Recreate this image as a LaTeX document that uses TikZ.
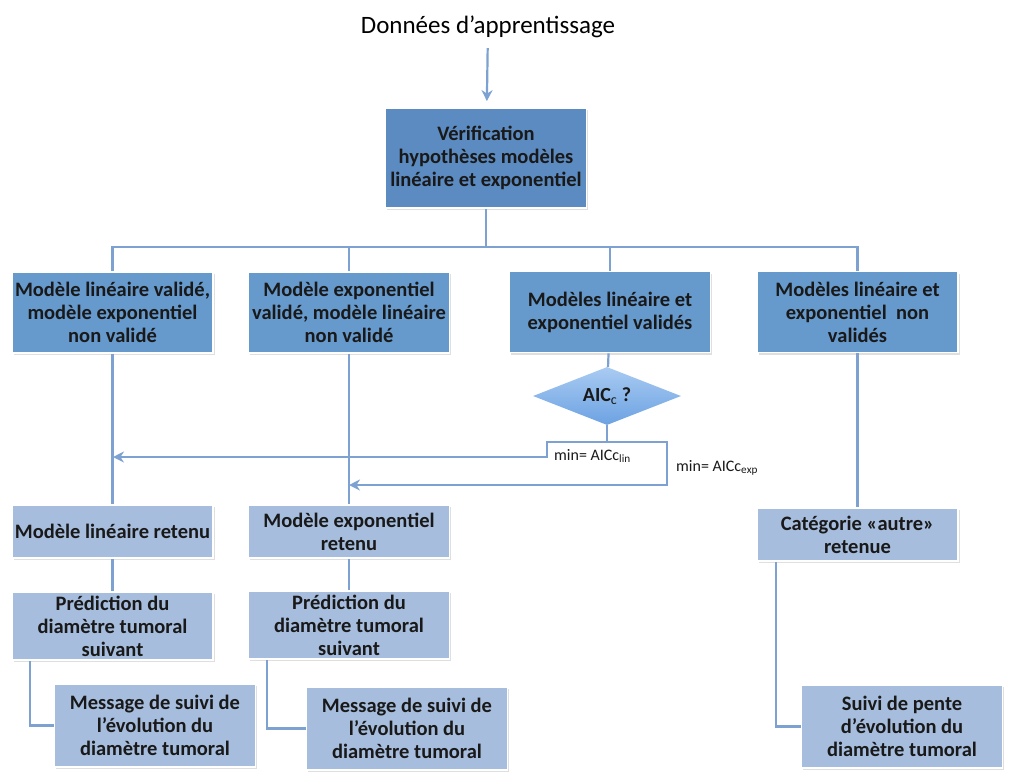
\documentclass[tikz,border=0pt]{standalone}
\usepackage{fontspec}
\setmainfont{Carlito}
\usepackage{tikz}
\usetikzlibrary{positioning,arrows.meta,shapes.geometric,shadows}
\definecolor{boxdark}{HTML}{5B8BC0}
\definecolor{boxmid}{HTML}{6699CC}
\definecolor{boxlight}{HTML}{A6BDDD}
\definecolor{linkblue}{HTML}{7DA2D2}
\definecolor{diatop}{HTML}{A9CBF2}
\definecolor{diabot}{HTML}{6CA2E2}
\tikzset{
  box/.style={rectangle, draw=white, line width=1.8pt, minimum width=201pt, align=center,
    inner xsep=0pt, inner ysep=2pt,
    font=\fontsize{20.5}{23}\selectfont\bfseries, text=black!90,
    drop shadow={shadow xshift=1.5pt, shadow yshift=-2pt, opacity=0.25}},
  topbox/.style={box, fill=boxdark, minimum height=100pt},
  casebox/.style={box, fill=boxmid, minimum height=81pt},
  resbox/.style={box, fill=boxlight},
  choice/.style={diamond, aspect=2.5, inner sep=1pt, minimum width=148pt, minimum height=58pt,
    top color=diatop, bottom color=diabot, draw=none,
    font=\fontsize{20}{22}\selectfont\bfseries, text=black!90},
  link/.style={draw=linkblue, line width=2.2pt},
  arr/.style={link, -{Stealth[length=11pt,width=11pt]}},
  lbl/.style={font=\fontsize{16}{18}\selectfont, inner sep=1pt, text=black!90}
}
\begin{document}
\begin{tikzpicture}[x=1pt, y=-1pt]
  \useasboundingbox (0,0) rectangle (1024,774);
  % title and check
  \node[font=\fontsize{25}{29}\selectfont, inner sep=1pt] (title) at (488,27) {Données d’apprentissage};
  \node[topbox] (verif) at (486,158) {Vérification\\ hypothèses modèles\\ linéaire et exponentiel};
  % four cases
  \node[casebox] (m1) at (112.5,312.5) {Modèle linéaire validé,\\ modèle exponentiel\\ non validé};
  \node[casebox] (m2) at (349,312.5) {Modèle exponentiel\\ validé, modèle linéaire\\ non validé};
  \node[casebox] (m3) at (610,312) {Modèles linéaire et\\ exponentiel validés};
  \node[casebox] (m4) at (857.5,312) {Modèles linéaire et\\ exponentiel\ \ non\\ validés};
  \node[choice] (aic) at (607,396) {AIC$_{\mathrm{c}}$ ?};
  % retained models
  \node[resbox, minimum height=53pt] (r1) at (112.5,531.5) {Modèle linéaire retenu};
  \node[resbox, minimum height=53pt] (r2) at (349,531.5) {Modèle exponentiel\\ retenu};
  \node[resbox, minimum height=53pt] (r4) at (857.5,534.5) {Catégorie «autre»\\ retenue};
  \node[resbox, minimum height=68pt] (p1) at (112.5,626) {Prédiction du\\ diamètre tumoral\\ suivant};
  \node[resbox, minimum height=68pt] (p2) at (349,625) {Prédiction du\\ diamètre tumoral\\ suivant};
  \node[resbox, minimum height=83pt] (s1) at (155,725.5) {Message de suivi de\\ l’évolution du\\ diamètre tumoral};
  \node[resbox, minimum height=83pt] (s2) at (407,728.5) {Message de suivi de\\ l’évolution du\\ diamètre tumoral};
  \node[resbox, minimum height=83pt] (s4) at (902,726.5) {Suivi de pente\\ d’évolution du\\ diamètre tumoral};
  % connectors
  \coordinate (bus) at (486,247);
  \coordinate (split) at (607,442);
  \coordinate (lbend) at (547,442);
  \coordinate (rbend) at (667,442);
  \coordinate (linhit) at (113,457);
  \coordinate (exphit) at (349,485);
  \draw[arr, shorten <=9pt, shorten >=6pt] (title) -- (verif);
  \draw[link] (verif) -- (bus);
  \draw[link] (m1.north) |- (bus) -| (m4.north);
  \draw[link] (m2.north) -- (m2.north |- bus);
  \draw[link] (m3.north) -- (m3.north |- bus);
  \draw[link] (m1) -- (r1);
  \draw[link] (m2) -- (r2);
  \draw[link] (m3) -- (aic);
  \draw[link] (m4) -- (r4);
  \draw[link] (aic.south) -- (split);
  \draw[arr] (split) -- (lbend) |- (linhit);
  \draw[arr] (split) -- (rbend) |- (exphit);
  \node[lbl, anchor=west] (lmin) at (553,456) {min= AICc$_{\mathrm{lin}}$};
  \node[lbl, anchor=west] (emin) at (675,468) {min= AICc$_{\mathrm{exp}}$};
  \draw[link] (r1) -- (p1);
  \draw[link] (r2) -- (p2);
  \draw[link] ([xshift=-82.5pt]p1.south) |- (s1.west);
  \draw[link] ([xshift=-82pt]p2.south) |- (s2.west);
  \draw[link] ([xshift=-81.5pt]r4.south) |- (s4.west);
\end{tikzpicture}
\end{document}
